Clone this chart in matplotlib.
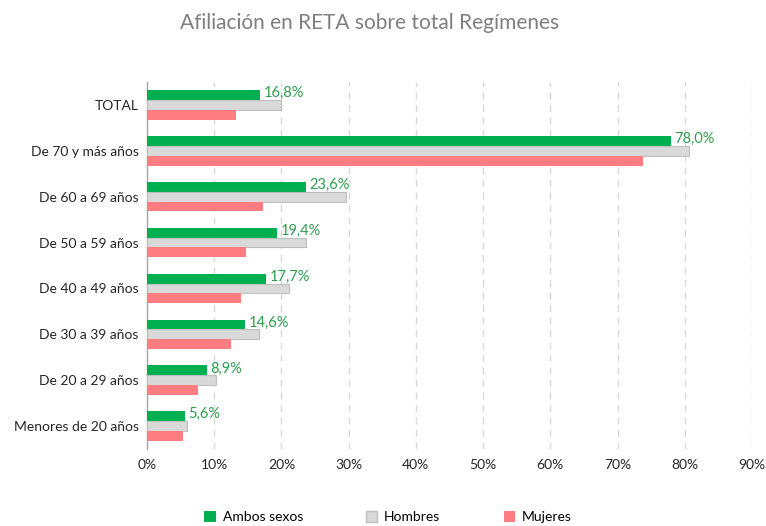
import matplotlib
matplotlib.use("Agg")
import matplotlib.pyplot as plt
import numpy as np
from matplotlib.patches import Patch

plt.rcParams['font.family'] = ['Lato', 'DejaVu Sans']

categories = ["TOTAL", "De 70 y más años", "De 60 a 69 años", "De 50 a 59 años",
              "De 40 a 49 años", "De 30 a 39 años", "De 20 a 29 años", "Menores de 20 años"]
ambos = [16.8, 78.0, 23.6, 19.4, 17.7, 14.6, 8.9, 5.6]
hombres = [20.0, 80.6, 29.6, 23.6, 21.1, 16.6, 10.2, 5.9]
mujeres = [13.3, 73.8, 17.2, 14.8, 14.0, 12.5, 7.6, 5.4]
series_names = ["Ambos sexos", "Hombres", "Mujeres"]
xticks = [0, 10, 20, 30, 40, 50, 60, 70, 80, 90]

c_green = "#00B050"
c_grey = "#D9D9D9"
c_red = "#FF7C80"

fig = plt.figure(figsize=(7.66, 5.26), dpi=100)
ax = fig.add_axes([147/766, 1-449/526, (752-147)/766, (449-82)/526])

n = len(categories)
y = np.arange(n)
h = 0.215
ax.barh(y - h, ambos, height=h, color=c_green, zorder=3)
ax.barh(y, hombres, height=h, color=c_grey, edgecolor="#BFBFBF", linewidth=0.8, zorder=3)
ax.barh(y + h, mujeres, height=h, color=c_red, zorder=3)

for yi, v in zip(y, ambos):
    ax.text(v + 0.5, yi - h - 0.04, f"{v:.1f}%".replace(".", ","), color="#2E9E4F",
            fontsize=10.5, va="center", ha="left", zorder=4)

ax.set_ylim(n - 0.5, -0.5)
ax.set_xlim(0, 90)
ax.set_yticks(y)
ax.set_yticklabels(categories, fontsize=10, color="#262626")
ax.set_xticks(xticks)
ax.set_xticklabels([f"{t}%" for t in xticks], fontsize=10, color="#262626")
ax.tick_params(axis="both", length=0)
ax.tick_params(axis="x", pad=7)
ax.tick_params(axis="y", pad=6)
for s in ["top", "right", "bottom"]:
    ax.spines[s].set_visible(False)
ax.spines["left"].set_color("#A6A6A6")
ax.spines["left"].set_linewidth(1.0)
ax.xaxis.grid(True, linestyle=(0, (5, 4)), color="#D9D9D9", linewidth=1.0, zorder=0)
ax.set_axisbelow(True)

fig.text(370/766, 1-23/526, "Afiliación en RETA sobre total Regímenes", ha="center", va="center",
         fontsize=15, color="#7F7F7F")

handles = [Patch(facecolor=c_green), Patch(facecolor=c_grey, edgecolor="#BFBFBF"), Patch(facecolor=c_red)]
fig.legend(handles, series_names, loc="center", bbox_to_anchor=(388/766, 1-517/526), ncol=3,
           frameon=False, fontsize=10, handlelength=0.8, handleheight=0.8, handletextpad=0.5,
           columnspacing=4.55)

fig.savefig("out.png", dpi=100)
